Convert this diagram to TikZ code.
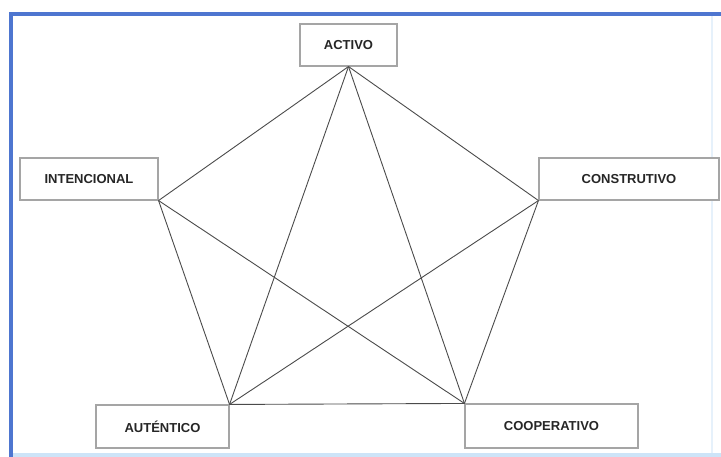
\documentclass[tikz,border=0pt]{standalone}
\usepackage{fontspec}
\setmainfont{Liberation Sans}
\definecolor{framblue}{RGB}{78,118,208}
\definecolor{framlight}{RGB}{205,228,248}
\definecolor{boxgray}{RGB}{165,165,165}
\definecolor{linegray}{RGB}{75,75,75}
\begin{document}
\begin{tikzpicture}[x=1pt,y=-1pt,
  conceptbox/.style={draw=boxgray, line width=1.1pt, fill=white, inner sep=0pt,
    minimum height=42pt, font=\bfseries\fontsize{13}{15}\selectfont, text=black!85},
  link/.style={draw=linegray, line width=0.9pt}]
\useasboundingbox (0,0) rectangle (721,457);
% frame
\fill[white] (0,0) rectangle (721,457);
\fill[framlight] (9,453) rectangle (721,457);
\fill[framlight!50] (711,14) rectangle (713,453);
\fill[framblue] (9,12) rectangle (721,16);
\fill[framblue] (9,12) rectangle (13,457);
% nodes
\node[conceptbox, minimum width=97pt] (act) at (348.5,45) {ACTIVO};
\node[conceptbox, minimum width=138pt] (int) at (89,179) {INTENCIONAL};
\node[conceptbox, minimum width=180pt] (con) at (629,179) {CONSTRUTIVO};
\node[conceptbox, minimum width=133pt, minimum height=43pt] (aut) at (162.5,426.5) {AUTÉNTICO};
\node[conceptbox, minimum width=173pt, minimum height=44pt] (coo) at (551.5,426) {COOPERATIVO};
% connectors
\draw[link] (act.south) -- (int.south east);
\draw[link] (act.south) -- (con.south west);
\draw[link] (act.south) -- (aut.north east);
\draw[link] (act.south) -- (coo.north west);
\draw[link] (int.south east) -- (aut.north east);
\draw[link] (int.south east) -- (coo.north west);
\draw[link] (con.south west) -- (aut.north east);
\draw[link] (con.south west) -- (coo.north west);
\draw[link] (aut.north east) -- (coo.north west);
\end{tikzpicture}
\end{document}
